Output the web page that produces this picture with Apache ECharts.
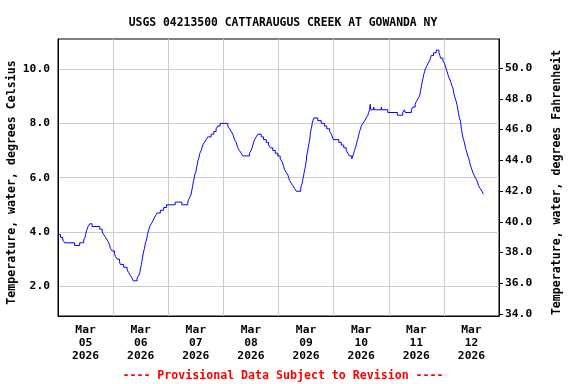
<!DOCTYPE html>
<html>
<head>
<meta charset="utf-8">
<script src="https://cdn.jsdelivr.net/npm/echarts@6/dist/echarts.min.js"></script>
<style>html,body{margin:0;padding:0;background:#fff}#c{width:576px;height:384px}</style>
</head>
<body>
<div id="c"></div>
<script>
const chartTitle = "USGS 04213500 CATTARAUGUS CREEK AT GOWANDA NY";
const footerText = "---- Provisional Data Subject to Revision ----";
const leftAxisName = "Temperature, water, degrees Celsius";
const rightAxisName = "Temperature, water, degrees Fahrenheit";
const dayLabels = ["Mar\n05\n2026","Mar\n06\n2026","Mar\n07\n2026","Mar\n08\n2026","Mar\n09\n2026","Mar\n10\n2026","Mar\n11\n2026","Mar\n12\n2026"];
const celsiusTicks = [2, 4, 6, 8, 10];
const fahrenheitTicks = [34, 36, 38, 40, 42, 44, 46, 48, 50];

const times = [
"2026-03-05 00:00","2026-03-05 01:05","2026-03-05 02:05","2026-03-05 02:55","2026-03-05 07:15","2026-03-05 09:25","2026-03-05 11:10","2026-03-05 11:45","2026-03-05 12:00","2026-03-05 12:15","2026-03-05 12:40","2026-03-05 13:05","2026-03-05 13:50","2026-03-05 14:50","2026-03-05 18:10","2026-03-05 19:15","2026-03-05 19:55","2026-03-05 20:40","2026-03-05 21:25","2026-03-05 22:05","2026-03-05 22:30","2026-03-05 22:50","2026-03-05 23:35",
"2026-03-06 00:35","2026-03-06 01:00","2026-03-06 01:45","2026-03-06 02:45","2026-03-06 03:10","2026-03-06 04:35","2026-03-06 06:05","2026-03-06 06:50","2026-03-06 07:30","2026-03-06 08:15","2026-03-06 08:45","2026-03-06 10:25","2026-03-06 11:10","2026-03-06 11:35","2026-03-06 11:50","2026-03-06 12:00","2026-03-06 12:20","2026-03-06 12:30","2026-03-06 12:40","2026-03-06 12:55","2026-03-06 13:05","2026-03-06 13:20","2026-03-06 13:40","2026-03-06 13:50","2026-03-06 14:05","2026-03-06 14:30","2026-03-06 14:45","2026-03-06 14:55","2026-03-06 15:15","2026-03-06 15:35","2026-03-06 15:55","2026-03-06 16:35","2026-03-06 17:15","2026-03-06 17:50","2026-03-06 18:25","2026-03-06 19:10","2026-03-06 20:35","2026-03-06 22:00","2026-03-06 23:15",
"2026-03-07 03:00","2026-03-07 05:55","2026-03-07 08:30","2026-03-07 08:55","2026-03-07 09:30","2026-03-07 10:00","2026-03-07 10:10","2026-03-07 10:25","2026-03-07 10:40","2026-03-07 10:50","2026-03-07 11:05","2026-03-07 11:20","2026-03-07 11:30","2026-03-07 12:00","2026-03-07 12:10","2026-03-07 12:25","2026-03-07 12:40","2026-03-07 12:50","2026-03-07 13:15","2026-03-07 13:30","2026-03-07 13:45","2026-03-07 14:20","2026-03-07 14:40","2026-03-07 15:00","2026-03-07 15:45","2026-03-07 16:30","2026-03-07 17:10","2026-03-07 18:40","2026-03-07 19:50","2026-03-07 20:50","2026-03-07 21:35","2026-03-07 22:35",
"2026-03-08 01:55","2026-03-08 02:40","2026-03-08 03:25","2026-03-08 04:05","2026-03-08 04:30","2026-03-08 04:50","2026-03-08 05:35","2026-03-08 05:55","2026-03-08 06:15","2026-03-08 07:00","2026-03-08 07:45","2026-03-08 08:25","2026-03-08 11:20","2026-03-08 12:05","2026-03-08 12:30","2026-03-08 12:50","2026-03-08 13:10","2026-03-08 13:35","2026-03-08 14:15","2026-03-08 15:00","2026-03-08 16:30","2026-03-08 17:30","2026-03-08 18:40","2026-03-08 19:40","2026-03-08 20:30","2026-03-08 21:30","2026-03-08 22:35","2026-03-08 23:40",
"2026-03-09 00:45","2026-03-09 01:25","2026-03-09 01:55","2026-03-09 02:20","2026-03-09 02:35","2026-03-09 03:20","2026-03-09 04:05","2026-03-09 04:25","2026-03-09 04:45","2026-03-09 05:30","2026-03-09 06:15","2026-03-09 07:00","2026-03-09 07:45","2026-03-09 09:40","2026-03-09 09:55","2026-03-09 10:20","2026-03-09 10:30","2026-03-09 10:45","2026-03-09 11:00","2026-03-09 11:10","2026-03-09 11:25","2026-03-09 11:40","2026-03-09 11:50","2026-03-09 12:05","2026-03-09 12:15","2026-03-09 12:30","2026-03-09 12:45","2026-03-09 12:55","2026-03-09 13:10","2026-03-09 13:20","2026-03-09 13:35","2026-03-09 13:50","2026-03-09 14:00","2026-03-09 14:15","2026-03-09 14:30","2026-03-09 14:40","2026-03-09 15:00","2026-03-09 15:25","2026-03-09 17:05","2026-03-09 18:35","2026-03-09 20:00","2026-03-09 21:00","2026-03-09 22:15","2026-03-09 23:00","2026-03-09 23:25","2026-03-09 23:55",
"2026-03-10 02:15","2026-03-10 03:20","2026-03-10 04:25","2026-03-10 05:30","2026-03-10 06:10","2026-03-10 06:55","2026-03-10 07:55","2026-03-10 08:20","2026-03-10 08:45","2026-03-10 09:05","2026-03-10 09:30","2026-03-10 09:50","2026-03-10 10:05","2026-03-10 10:25","2026-03-10 10:45","2026-03-10 11:00","2026-03-10 11:15","2026-03-10 11:45","2026-03-10 12:00","2026-03-10 12:45","2026-03-10 13:35","2026-03-10 14:10","2026-03-10 14:55","2026-03-10 15:15","2026-03-10 15:40","2026-03-10 15:55","2026-03-10 16:10","2026-03-10 17:25","2026-03-10 17:45","2026-03-10 20:45","2026-03-10 21:00","2026-03-10 23:35",
"2026-03-11 03:45","2026-03-11 06:05","2026-03-11 06:50","2026-03-11 07:10","2026-03-11 09:50","2026-03-11 10:30","2026-03-11 11:30","2026-03-11 12:00","2026-03-11 12:40","2026-03-11 13:25","2026-03-11 13:40","2026-03-11 13:50","2026-03-11 14:05","2026-03-11 14:15","2026-03-11 14:30","2026-03-11 14:45","2026-03-11 15:00","2026-03-11 15:15","2026-03-11 15:35","2026-03-11 15:55","2026-03-11 16:30","2026-03-11 17:00","2026-03-11 17:45","2026-03-11 18:10","2026-03-11 18:30","2026-03-11 19:30","2026-03-11 20:40","2026-03-11 21:50","2026-03-11 22:15","2026-03-11 22:35","2026-03-11 23:35",
"2026-03-12 00:20","2026-03-12 00:40","2026-03-12 01:00","2026-03-12 01:25","2026-03-12 01:45","2026-03-12 02:10","2026-03-12 02:40","2026-03-12 03:05","2026-03-12 03:25","2026-03-12 03:55","2026-03-12 04:10","2026-03-12 04:20","2026-03-12 04:40","2026-03-12 05:00","2026-03-12 05:25","2026-03-12 05:40","2026-03-12 05:55","2026-03-12 06:05","2026-03-12 06:20","2026-03-12 06:30","2026-03-12 06:45","2026-03-12 07:10","2026-03-12 07:20","2026-03-12 07:30","2026-03-12 07:35","2026-03-12 07:50","2026-03-12 08:00","2026-03-12 08:15","2026-03-12 08:35","2026-03-12 08:55","2026-03-12 09:10","2026-03-12 09:25","2026-03-12 09:45","2026-03-12 10:05","2026-03-12 10:25","2026-03-12 10:50","2026-03-12 11:10","2026-03-12 11:25","2026-03-12 11:45","2026-03-12 12:10","2026-03-12 12:35","2026-03-12 13:05","2026-03-12 13:40","2026-03-12 14:20","2026-03-12 14:45","2026-03-12 15:05","2026-03-12 15:50","2026-03-12 16:35","2026-03-12 17:10","2026-03-12 17:20"
];
const tempsC = [
3.9,3.8,3.7,3.6,3.5,3.6,3.7,3.8,3.9,4.0,4.1,4.2,4.3,4.2,4.1,4.0,3.9,3.8,3.7,3.6,3.5,3.4,3.3,
3.2,3.1,3.0,2.9,2.8,2.7,2.6,2.5,2.4,2.3,2.2,2.3,2.4,2.5,2.6,2.7,2.8,2.9,3.0,3.1,3.2,3.3,3.4,3.5,3.6,3.7,3.8,3.9,4.0,4.1,4.2,4.3,4.4,4.5,4.6,4.7,4.8,4.9,5.0,
5.1,5.0,5.1,5.2,5.3,5.4,5.5,5.6,5.7,5.8,5.9,6.0,6.1,6.2,6.3,6.4,6.5,6.6,6.7,6.8,6.9,7.0,7.1,7.2,7.3,7.4,7.5,7.6,7.7,7.8,7.9,8.0,
7.9,7.8,7.7,7.6,7.5,7.4,7.3,7.2,7.1,7.0,6.9,6.8,6.9,7.0,7.1,7.2,7.3,7.4,7.5,7.6,7.5,7.4,7.3,7.2,7.1,7.0,6.9,6.8,
6.7,6.6,6.5,6.4,6.3,6.2,6.1,6.0,5.9,5.8,5.7,5.6,5.5,5.6,5.7,5.8,5.9,6.0,6.1,6.2,6.3,6.4,6.5,6.6,6.8,6.9,7.0,7.1,7.2,7.3,7.4,7.6,7.7,7.8,7.9,8.0,8.1,8.2,8.1,8.0,7.9,7.8,7.7,7.6,7.5,7.4,
7.3,7.2,7.1,7.0,6.9,6.8,6.7,6.8,6.9,7.0,7.1,7.2,7.3,7.4,7.5,7.6,7.7,7.8,7.9,8.0,8.1,8.2,8.3,8.4,8.5,8.7,8.5,8.6,8.5,8.6,8.5,8.4,
8.3,8.4,8.5,8.4,8.5,8.6,8.7,8.8,8.9,9.0,9.1,9.2,9.3,9.4,9.5,9.6,9.7,9.8,9.9,10.0,10.1,10.2,10.3,10.4,10.5,10.6,10.7,10.6,10.5,10.4,10.3,
10.2,10.1,10.0,9.9,9.8,9.7,9.6,9.5,9.4,9.3,9.2,9.1,9.0,8.9,8.8,8.7,8.6,8.5,8.4,8.3,8.2,8.1,8.0,7.9,7.8,7.7,7.6,7.5,7.4,7.3,7.2,7.1,7.0,6.9,6.8,6.7,6.6,6.5,6.4,6.3,6.2,6.1,6.0,5.9,5.8,5.7,5.6,5.5,5.4,5.4
];

const font = '"DejaVu Sans Mono", "Liberation Mono", monospace';
const seriesData = times.map((t, i) => [t, tempsC[i]]);

const chart = echarts.init(document.getElementById('c'), null, {renderer: 'canvas'});
chart.setOption({
  animation: false,
  backgroundColor: '#fff',
  title: [
    {text: chartTitle, left: 278, top: 13, textAlign: 'center',
     textStyle: {fontFamily: font, fontWeight: 'bold', fontSize: 11.4, color: '#000'}},
    {text: footerText, left: 278, top: 365, textAlign: 'center',
     textStyle: {fontFamily: font, fontWeight: 'bold', fontSize: 11.6, color: '#ff0000'}}
  ],
  grid: {left: 58, right: 77, top: 39, bottom: 68, show: true, borderColor: '#000', borderWidth: 1,
         backgroundColor: 'transparent', containLabel: false, outerBoundsMode: 'none'},
  xAxis: [
    {type: 'time', position: 'top', min: '2026-03-05 00:00', max: '2026-03-13 00:00', show: false, splitLine: {show: false}},
    {type: 'category', position: 'bottom', data: dayLabels, boundaryGap: true,
     axisLine: {show: true, lineStyle: {color: '#000', width: 1}},
     axisTick: {show: false},
     splitLine: {show: true, lineStyle: {color: '#cccccc', width: 1}},
     axisLabel: {fontFamily: font, fontWeight: 'bold', fontSize: 11.3, color: '#000', lineHeight: 13, margin: 8, interval: 0}}
  ],
  yAxis: [
    {type: 'value', position: 'left', min: 0.904, max: 11.107,
     name: leftAxisName, nameLocation: 'middle', nameGap: 40, nameMoveOverlap: false,
     nameTextStyle: {fontFamily: font, fontWeight: 'bold', fontSize: 11.6, color: '#000', padding: [0, 10, 0, 0]},
     axisLine: {show: true, lineStyle: {color: '#000', width: 1}},
     axisTick: {show: false, customValues: celsiusTicks},
     splitLine: {show: true, lineStyle: {color: '#cccccc', width: 1}},
     axisLabel: {customValues: celsiusTicks, formatter: v => v.toFixed(1), fontFamily: font, fontWeight: 'bold', fontSize: 11.3, color: '#000', margin: 8}},
    {type: 'value', position: 'right', min: 33.87, max: 51.89,
     name: rightAxisName, nameLocation: 'middle', nameGap: 52, nameMoveOverlap: false,
     nameTextStyle: {fontFamily: font, fontWeight: 'bold', fontSize: 11.6, color: '#000', padding: [0, 10, 0, 0]},
     axisLine: {show: true, lineStyle: {color: '#000', width: 1}},
     axisTick: {show: true, inside: false, length: 4, customValues: fahrenheitTicks, lineStyle: {color: '#000'}},
     splitLine: {show: false},
     axisLabel: {customValues: fahrenheitTicks, formatter: v => v.toFixed(1), fontFamily: font, fontWeight: 'bold', fontSize: 11.3, color: '#000', margin: 6}}
  ],
  series: [{
    type: 'line', xAxisIndex: 0, yAxisIndex: 0, data: seriesData, step: 'end',
    showSymbol: false, symbol: 'none',
    lineStyle: {color: '#0000ff', width: 1}
  }]
});
</script>
</body>
</html>
